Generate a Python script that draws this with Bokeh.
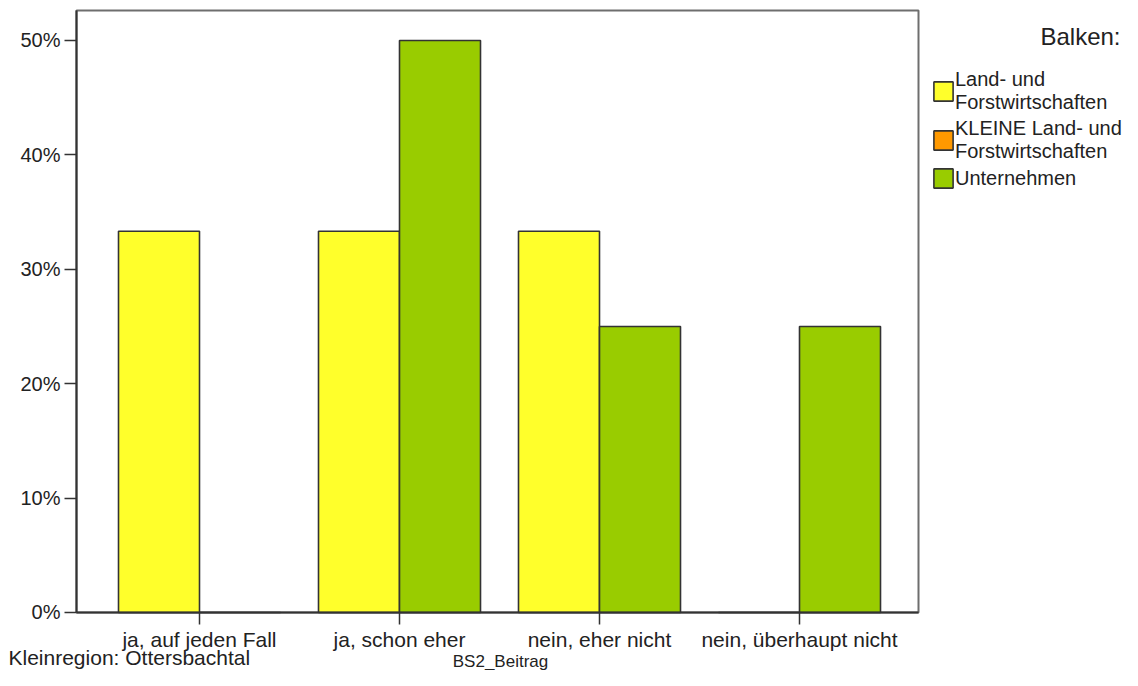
from bokeh.plotting import figure
from bokeh.models import (ColumnDataSource, Range1d, FixedTicker, PrintfTickFormatter,
                          Legend, LegendItem, Label, BoxAnnotation)
from bokeh.embed import file_html
from bokeh.resources import INLINE

# ---- data ----
categories = ["ja, auf jeden Fall", "ja, schon eher", "nein, eher nicht", "nein, überhaupt nicht"]
series_names = ["Land- und\nForstwirtschaften", "KLEINE Land- und\nForstwirtschaften", "Unternehmen"]
series_colors = ["#FFFF2B", "#FF9900", "#99CC00"]
land_forst = [33.33, 33.33, 33.33, 0.0]
kleine_land_forst = [0.0, 0.0, 0.0, 0.0]
unternehmen = [0.0, 50.0, 25.0, 25.0]
y_ticks = [0, 10, 20, 30, 40, 50]
legend_title = "Balken:"
footer_left = "Kleinregion: Ottersbachtal"
x_title = "BS2_Beitrag"

FONT = "Liberation Sans"
TXT = "#222222"
EDGE = "#333333"

W, H = 1122, 670
# chart area (data limits of the drawn axes box)
X0, X1 = -0.615, 3.595
Y0, Y1 = 0.0, 52.62
# canvas-wide ranges so that legend and footer sit inside the frame
px_per_x = 200.0
px_per_y = 11.44
left_px, top_px, bottom_px = 76, 10, 612
xr = Range1d(X0 - left_px / px_per_x, X0 + (W - left_px) / px_per_x)
yr = Range1d(Y0 - (H - bottom_px) / px_per_y, Y1 + top_px / px_per_y)

p = figure(width=W, height=H, output_backend="svg", toolbar_location=None,
           x_range=xr, y_range=yr,
           min_border=0, min_border_left=0, min_border_right=0,
           min_border_top=0, min_border_bottom=0)
p.background_fill_color = "white"
p.border_fill_color = "white"
p.outline_line_color = None
p.xgrid.visible = False
p.ygrid.visible = False

box = BoxAnnotation(left=X0, right=X1, bottom=Y0, top=Y1, fill_alpha=0,
                    line_color="#6E6E6E", line_alpha=1.0, line_width=2, level="underlay")
p.add_layout(box)

idx = list(range(len(categories)))
bw = 0.405
src_y = ColumnDataSource(dict(x=[i - bw / 2 for i in idx], top=land_forst))
src_o = ColumnDataSource(dict(x=idx, top=kleine_land_forst))
src_g = ColumnDataSource(dict(x=[i + bw / 2 for i in idx], top=unternehmen))

r_y = p.vbar(x="x", top="top", bottom=0, width=bw, source=src_y,
             fill_color=series_colors[0], line_color=EDGE, line_width=1.6)
r_o = p.vbar(x="x", top="top", bottom=0, width=0.0, source=src_o,
             fill_color=series_colors[1], line_color=EDGE, line_width=1.6)
r_g = p.vbar(x="x", top="top", bottom=0, width=bw, source=src_g,
             fill_color=series_colors[2], line_color=EDGE, line_width=1.6)

for ax in (p.xaxis[0], p.yaxis[0]):
    ax.axis_line_color = EDGE
    ax.axis_line_width = 2
    ax.major_tick_line_color = EDGE
    ax.major_tick_line_width = 1.5
    ax.major_tick_in = 0
    ax.major_tick_out = 12
    ax.minor_tick_line_color = None
    ax.major_label_text_font = FONT
    ax.major_label_text_color = TXT

p.xaxis.fixed_location = Y0
p.xaxis.bounds = (X0, X1)
p.xaxis.ticker = FixedTicker(ticks=idx)
p.xaxis.major_label_overrides = {i: c for i, c in zip(idx, categories)}
p.xaxis.major_label_standoff = 4
p.xaxis.major_label_text_font_size = "21px"

p.yaxis.fixed_location = X0
p.yaxis.bounds = (Y0, Y1)
p.yaxis.ticker = FixedTicker(ticks=y_ticks)
p.yaxis.formatter = PrintfTickFormatter(format="%d%%")
p.yaxis.major_label_standoff = 4
p.yaxis.major_label_text_font_size = "20px"

legend = Legend(items=[LegendItem(label=n, renderers=[r]) for n, r in
                       zip(series_names, [r_y, r_o, r_g])],
                location=(931, 480), padding=0, margin=0, spacing=3,
                glyph_width=24, glyph_height=24, label_standoff=0,
                label_text_font=FONT, label_text_font_size="20px",
                label_text_color=TXT,
                border_line_alpha=0, background_fill_alpha=0)
p.add_layout(legend)

p.add_layout(Label(x=1120, y=H - 36, x_units="screen", y_units="screen", text=legend_title,
                   text_align="right", text_baseline="alphabetic", text_font=FONT,
                   text_font_size="24px", text_color=TXT))
p.add_layout(Label(x=8, y=H - 657, x_units="screen", y_units="screen", text=footer_left,
                   text_align="left", text_baseline="alphabetic", text_font=FONT,
                   text_font_size="21px", text_color=TXT))
p.add_layout(Label(x=500, y=H - 661, x_units="screen", y_units="screen", text=x_title,
                   text_align="center", text_baseline="alphabetic", text_font=FONT,
                   text_font_size="17px", text_color=TXT))

open("out.html", "w").write(file_html(p, INLINE))
